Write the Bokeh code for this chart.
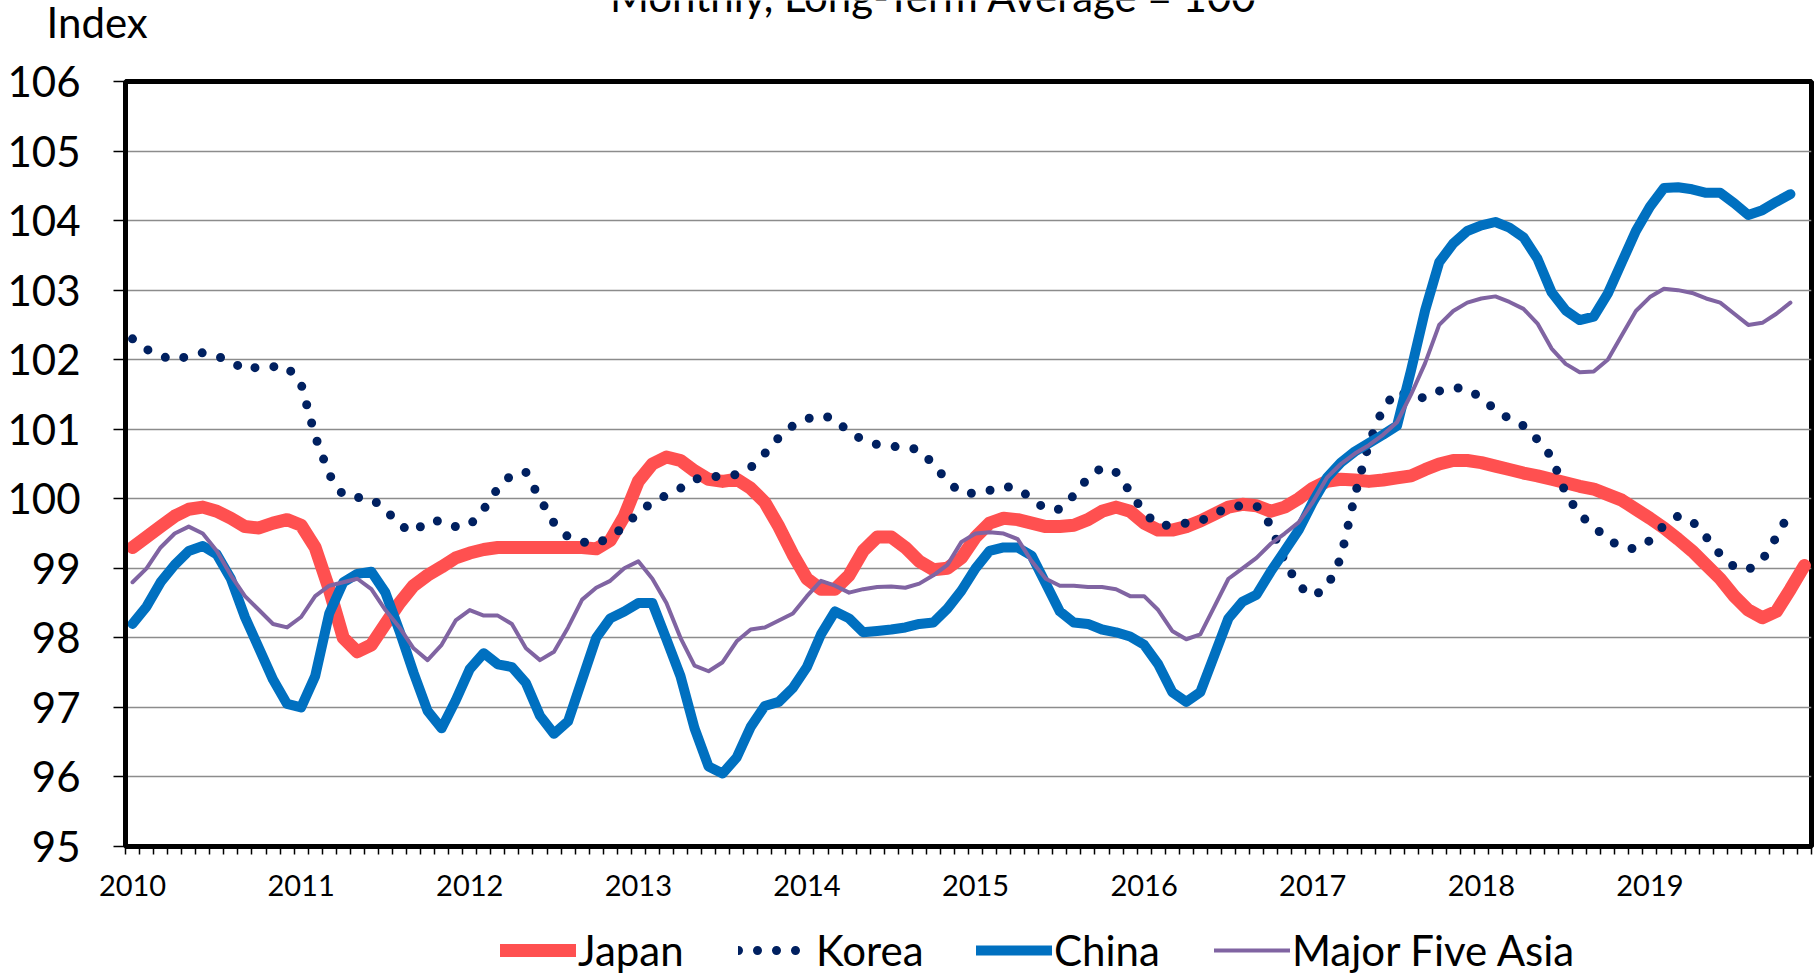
from bokeh.plotting import figure
from bokeh.layouts import column
from bokeh.models import FixedTicker, Legend, LegendItem, Label, Range1d
from bokeh.embed import file_html
from bokeh.resources import INLINE

years = ["2010", "2011", "2012", "2013", "2014", "2015", "2016", "2017", "2018", "2019"]
title_text = "Monthly, Long-Term Average = 100"
y_title = "Index"
series_names = ["Japan", "Korea", "China", "Major Five Asia"]

japan = [99.3, 99.45, 99.6, 99.75, 99.85, 99.88, 99.82, 99.72, 99.6, 99.58, 99.65, 99.7,
         99.62, 99.3, 98.7, 98.0, 97.8, 97.9, 98.2, 98.5, 98.75, 98.9, 99.02, 99.15,
         99.22, 99.27, 99.3, 99.3, 99.3, 99.3, 99.3, 99.3, 99.3, 99.28, 99.4, 99.75,
         100.25, 100.5, 100.6, 100.55, 100.4, 100.28, 100.25, 100.28, 100.15, 99.95, 99.6, 99.2,
         98.85, 98.7, 98.7, 98.9, 99.25, 99.45, 99.45, 99.3, 99.1, 98.98, 99.0, 99.15,
         99.45, 99.65, 99.72, 99.7, 99.65, 99.6, 99.6, 99.62, 99.7, 99.82, 99.88, 99.82,
         99.65, 99.55, 99.55, 99.6, 99.68, 99.78, 99.88, 99.92, 99.9, 99.82, 99.88, 100.0,
         100.15, 100.25, 100.28, 100.27, 100.25, 100.27, 100.3, 100.33, 100.42, 100.5, 100.55, 100.55,
         100.52, 100.47, 100.42, 100.37, 100.33, 100.28, 100.23, 100.18, 100.14, 100.06, 99.98, 99.85,
         99.72, 99.58, 99.42, 99.25, 99.05, 98.85, 98.6, 98.4, 98.29, 98.38, 98.7, 99.04]

korea = [102.3, 102.15, 102.05, 102.0, 102.05, 102.1, 102.05, 101.98, 101.85, 101.9, 101.9, 101.9,
         101.65, 100.9, 100.35, 100.05, 100.02, 100.0, 99.85, 99.62, 99.52, 99.68, 99.68, 99.6,
         99.62, 99.85, 100.15, 100.35, 100.38, 100.0, 99.65, 99.45, 99.38, 99.35, 99.45, 99.6,
         99.8, 99.95, 100.05, 100.15, 100.28, 100.32, 100.32, 100.35, 100.45, 100.65, 100.88, 101.05,
         101.15, 101.2, 101.15, 100.95, 100.85, 100.78, 100.75, 100.75, 100.7, 100.5, 100.25, 100.08,
         100.08, 100.12, 100.18, 100.15, 100.0, 99.85, 99.85, 100.05, 100.3, 100.45, 100.38, 100.1,
         99.8, 99.62, 99.62, 99.65, 99.68, 99.78, 99.88, 99.9, 99.9, 99.62, 99.1, 98.75,
         98.6, 98.72, 99.15, 100.05, 100.8, 101.3, 101.55, 101.47, 101.45, 101.55, 101.6, 101.58,
         101.45, 101.28, 101.15, 101.05, 100.85, 100.6, 100.08, 99.77, 99.6, 99.42, 99.3, 99.28,
         99.4, 99.62, 99.75, 99.68, 99.45, 99.2, 99.02, 98.98, 99.12, 99.45, 99.82]

china = [98.2, 98.45, 98.8, 99.05, 99.25, 99.32, 99.2, 98.85, 98.3, 97.85, 97.4, 97.05,
         97.0, 97.45, 98.35, 98.8, 98.92, 98.95, 98.65, 98.1, 97.5, 96.95, 96.7, 97.1,
         97.55, 97.78, 97.62, 97.58, 97.35, 96.88, 96.62, 96.8, 97.4, 98.0, 98.28, 98.38,
         98.5, 98.5, 97.98, 97.45, 96.7, 96.15, 96.05, 96.28, 96.72, 97.02, 97.08, 97.28,
         97.58, 98.05, 98.38, 98.28, 98.08, 98.1, 98.12, 98.15, 98.2, 98.22, 98.42, 98.68,
         99.0, 99.25, 99.3, 99.3, 99.18, 98.78, 98.38, 98.22, 98.2, 98.12, 98.08, 98.02,
         97.9, 97.62, 97.22, 97.08, 97.22, 97.75, 98.28, 98.52, 98.62, 98.95, 99.25, 99.55,
         99.95, 100.3, 100.52, 100.68, 100.8, 100.92, 101.05, 101.85, 102.71, 103.4, 103.67, 103.85,
         103.93, 103.98, 103.9, 103.76, 103.45, 102.97, 102.71, 102.57, 102.62, 102.95, 103.4, 103.85,
         104.2, 104.47, 104.48, 104.45, 104.4, 104.4, 104.25, 104.08, 104.15, 104.27, 104.38]

major_five = [98.8, 99.0, 99.3, 99.5, 99.6, 99.5, 99.25, 98.9, 98.6, 98.4, 98.2, 98.15,
              98.3, 98.6, 98.75, 98.8, 98.85, 98.7, 98.4, 98.15, 97.85, 97.68, 97.9, 98.25,
              98.4, 98.32, 98.32, 98.2, 97.85, 97.68, 97.8, 98.15, 98.55, 98.72, 98.82, 99.0,
              99.1, 98.85, 98.5, 98.0, 97.6, 97.52, 97.65, 97.95, 98.12, 98.15, 98.25, 98.35,
              98.6, 98.82, 98.75, 98.65, 98.7, 98.73, 98.74, 98.72, 98.78, 98.9, 99.05, 99.38,
              99.5, 99.52, 99.5, 99.42, 99.1, 98.85, 98.75, 98.75, 98.73, 98.73, 98.7, 98.6,
              98.6, 98.4, 98.1, 97.98, 98.05, 98.45, 98.85, 99.0, 99.15, 99.35, 99.5, 99.66,
              99.95, 100.3, 100.5, 100.65, 100.77, 100.92, 101.1, 101.5, 101.95, 102.5, 102.7, 102.82,
              102.88, 102.91, 102.83, 102.73, 102.52, 102.16, 101.94, 101.82, 101.83, 102.0, 102.35, 102.7,
              102.9, 103.02, 103.0, 102.96, 102.88, 102.82, 102.66, 102.5, 102.53, 102.66, 102.82]

FONT = "Lato"
W = 1820

STYLES = [dict(line_color="#FF5050", line_width=13, line_join="round", line_cap="round"),
          dict(line_color="#002060", line_width=9, line_dash="0 19", line_cap="round", line_join="round"),
          dict(line_color="#0070C0", line_width=10, line_join="round", line_cap="round"),
          dict(line_color="#8064A2", line_width=4, line_join="round", line_cap="round")]

all_series = [japan, korea, china, major_five]


def bare(height):
    f = figure(width=W, height=height, output_backend="svg", toolbar_location=None,
               title=None, x_axis_type=None, y_axis_type=None,
               x_range=Range1d(0, 1), y_range=Range1d(0, 1), min_border=0)
    f.frame_align = False
    f.grid.visible = False
    f.outline_line_color = None
    f.background_fill_color = "white"
    f.border_fill_color = "white"
    return f


# ---- top strip: (cut) title and y-unit label
top = bare(50)
top.add_layout(Label(x=933, y=55, x_units="screen", y_units="screen", text=title_text,
                     text_align="center", text_baseline="alphabetic",
                     text_font=FONT, text_font_size="42px", text_color="black"))
top.add_layout(Label(x=46, y=29, x_units="screen", y_units="screen", text=y_title,
                     text_align="left", text_baseline="alphabetic",
                     text_font=FONT, text_font_size="42px", text_color="black"))

# ---- main chart
p = figure(width=W, height=870, output_backend="svg", toolbar_location=None, title=None,
           x_range=Range1d(-0.5, 119.5), y_range=Range1d(95, 106),
           min_border_left=125, min_border_right=9, min_border_top=31, min_border_bottom=74)
p.frame_align = False

p.background_fill_color = "white"
p.border_fill_color = "white"
p.outline_line_color = "black"
p.outline_line_width = 5
p.outline_line_alpha = 1.0

p.xgrid.visible = False
p.ygrid.ticker = FixedTicker(ticks=list(range(95, 107)))
p.ygrid.grid_line_color = "#8c8c8c"
p.ygrid.grid_line_width = 1.5

p.yaxis.ticker = FixedTicker(ticks=list(range(95, 107)))
p.yaxis.axis_line_color = "black"
p.yaxis.axis_line_width = 5
p.yaxis.major_tick_out = 12
p.yaxis.major_tick_in = 0
p.yaxis.major_tick_line_width = 1.5
p.yaxis.major_tick_line_color = "black"
p.yaxis.minor_tick_line_color = None
p.yaxis.major_label_standoff = 33
p.yaxis.major_label_text_font = FONT
p.yaxis.major_label_text_font_size = "42px"
p.yaxis.major_label_text_color = "black"

year_pos = [12 * k for k in range(len(years))]
p.xaxis.ticker = FixedTicker(ticks=year_pos, minor_ticks=[k - 0.5 for k in range(121)])
p.xaxis.major_label_overrides = {pos: lab for pos, lab in zip(year_pos, years)}
p.xaxis.axis_line_color = "black"
p.xaxis.axis_line_width = 5
p.xaxis.major_tick_out = 0
p.xaxis.major_tick_in = 0
p.xaxis.major_tick_line_color = None
p.xaxis.minor_tick_out = 8
p.xaxis.minor_tick_in = 0
p.xaxis.minor_tick_line_color = "black"
p.xaxis.minor_tick_line_width = 1.5
p.xaxis.major_label_standoff = 20
p.xaxis.major_label_text_font = FONT
p.xaxis.major_label_text_font_size = "29px"
p.xaxis.major_label_text_color = "black"

for vals, st in zip(all_series, STYLES):
    p.line(list(range(len(vals))), vals, **st)

# ---- legend strip: same series drawn with the same styles, outside this strip's view
leg = bare(58)
items = []
for name, vals, st in zip(series_names, all_series, STYLES):
    r = leg.line(list(range(len(vals))), vals, **st)
    items.append(LegendItem(label=name, renderers=[r]))
legend = Legend(items=items, orientation="horizontal", location=(500, 3),
                glyph_width=76, glyph_height=20, label_standoff=2, spacing=45, label_width=115,
                padding=0, margin=0, border_line_color=None, background_fill_alpha=0,
                label_text_font=FONT, label_text_font_size="42px", label_text_color="black")
leg.add_layout(legend)

layout = column(top, p, leg, spacing=0)
open("out.html", "w").write(file_html(layout, INLINE))
